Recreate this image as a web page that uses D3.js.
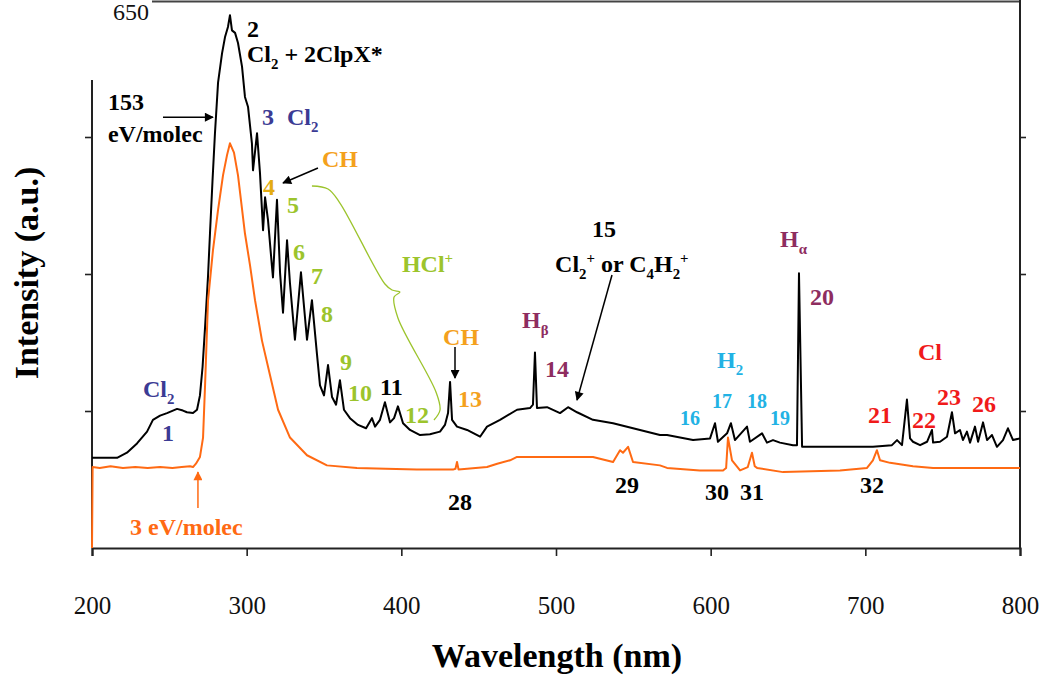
<!DOCTYPE html>
<html><head><meta charset="utf-8">
<script src="https://cdn.jsdelivr.net/npm/d3@7"></script>
<style>
html,body{margin:0;padding:0;background:#fff;}
svg{display:block;}
text{font-family:"Liberation Serif","Times New Roman",serif;}
</style></head><body>
<svg id="chart" width="1048" height="677"></svg>
<script>
// ---------- data ----------
const xTicks = [200, 300, 400, 500, 600, 700, 800];
const yTicks = [162.5, 325, 487.5];
const yTopLabel = "650";

// 153 eV/molec spectrum (black)
const blackWl = [200,216.2,222.6,229.1,235.6,239.4,244,248.5,255,258.8,261.4,265.3,267.9,269.8,271.5,273.1,275,276.3,277.9,279.5,281.5,284.1,286,287.9,289.2,290.5,292.5,294.4,297,298.9,300.9,303.4,304.1,306.7,308.6,310.6,311.9,313.8,316.4,317,319.6,321.6,323.5,326.1,328,331.2,335.1,339,342.2,345.5,347.4,350,352.6,355.2,357.8,360.3,362.9,366.8,372,377.2,381,383,386.2,389.4,392.7,395.3,397.8,401.1,405.6,412.1,418.5,425,428.2,430.2,431.5,432.8,436,442.5,450.9,455.4,463.8,474.8,483.2,485.1,486.4,487.7,494.2,502.6,507.8,513.6,523.9,536.9,549.8,567.2,571.8,588.6,599.6,602.8,604.7,610.6,613.1,615.7,623.5,625.4,633.2,636.4,640.3,644.8,653.2,655.8,657.1,659.1,683.6,704.9,717.2,720.5,723.7,726.9,728.9,730.8,735.4,739.9,743.1,743.8,748.3,752.8,756,758,761.2,763.1,765.7,767.7,770.9,772.9,776.1,778.7,781.9,785.1,789,792.2,795.5,800];
const blackI = [107,107,113,124,138,152,157,160,165,163,161,160,164,181,215,262,322,374,435,492,552,587,606,618,632,614,611,599,571,535,523,480,448,492,445,377,416,389,333,321,413,326,279,365,314,247,327,247,294,229,193,181,217,179,170,199,164,154,146,142,154,144,152,173,149,154,168,148,140,134,135,138,146,160,197,152,144,140,132,144,152,164,166,170,232,166,167,160,167,161,152,148,142,134,134,128,130,148,126,136,148,128,144,126,136,125,128,125,122,122,326,120,120,120,122,128,122,176,130,126,122,126,140,125,126,132,161,136,140,128,138,125,144,126,149,128,134,120,128,142,128,130];

// 3 eV/molec spectrum (orange)
const orangeWl = [200,200.4,205,212,220,228,236,244,252,258,263.4,265.3,267.2,269.8,271.8,273.1,275,278.2,281.5,284.7,287.3,289.2,291.8,294.4,298.9,302.2,305.4,309.9,315.1,320.3,328,339,351.9,371.3,390,410,433.4,435,436,437,455.4,462,470.3,474.8,494.2,509.1,523.9,536.9,541.4,543.3,546.6,549.8,567.2,571.8,593,608,610,611.2,613.8,619,624,626.7,628.5,630,646.8,683.6,701.1,704.9,707.5,709.5,716,730.8,743.8,770,800];
const orangeI = [0,96,95,97,95,96,95,96,95,96,97,96,100,108,131,193,293,353,401,442,466,480,469,442,373,335,294,246,205,164,131,110,98,95,94,93,93,94,102,93,96,100,104,108,108,108,108,102,116,113,120,102,98,95,92,92,95,131,104,92,96,113,97,95,90,92,95,104,116,104,101,97,95,95,95];

// ---------- colours ----------
const C = {
  black: "#000000", orange: "#ff6a13", blue: "#3b3b94", ch: "#f4a11d", ch4: "#e3ac12",
  green: "#9cc42c", maroon: "#8e2d5f", cyan: "#22b2e4", red: "#f01a1a", axis: "#222222"
};

// annotations in data coordinates (wavelength, intensity)
const labels = [
  {t:"2", wl:300.2, I:606, c:C.black},
  {t:"Cl_{2} + 2ClpX*", wl:300.2, I:576, c:C.black},
  {t:"153", wl:210.3, I:519.5, c:C.black},
  {t:"eV/molec", wl:210.3, I:481.6, c:C.black},
  {t:"3", wl:309.9, I:501.7, c:C.blue},
  {t:"Cl_{2}", wl:326.1, I:501.7, c:C.blue},
  {t:"CH", wl:348.7, I:451.9, c:C.ch},
  {t:"4", wl:310.6, I:418.7, c:C.ch4},
  {t:"5", wl:326.1, I:397.4, c:C.green},
  {t:"6", wl:330, I:341.6, c:C.green},
  {t:"7", wl:341.6, I:313, c:C.green},
  {t:"8", wl:348.1, I:268, c:C.green},
  {t:"9", wl:360.3, I:211, c:C.green},
  {t:"10", wl:365.5, I:174, c:C.green},
  {t:"11", wl:386.2, I:181.5, c:C.black},
  {t:"12", wl:402.4, I:148, c:C.green},
  {t:"HCl^{+}", wl:400.4, I:327, c:C.green},
  {t:"CH", wl:427, I:241, c:C.ch},
  {t:"13", wl:436.6, I:167, c:C.ch},
  {t:"H_{β}", wl:478, I:261, c:C.maroon},
  {t:"14", wl:492.9, I:203, c:C.maroon},
  {t:"15", wl:523.3, I:369, c:C.black},
  {t:"Cl_{2}^{+} or C_{4}H_{2}^{+}", wl:499.4, I:327, c:C.black},
  {t:"H_{α}", wl:644.8, I:357, c:C.maroon},
  {t:"20", wl:664.2, I:288, c:C.maroon},
  {t:"H_{2}", wl:604.1, I:213.5, c:C.cyan},
  {t:"16", wl:580.2, I:146, c:C.cyan, s:20},
  {t:"17", wl:600.9, I:166, c:C.cyan, s:20},
  {t:"18", wl:623.5, I:166, c:C.cyan, s:20},
  {t:"19", wl:638.4, I:146, c:C.cyan, s:20},
  {t:"Cl", wl:734, I:223, c:C.red},
  {t:"21", wl:701.7, I:148, c:C.red},
  {t:"22", wl:730.2, I:142, c:C.red},
  {t:"23", wl:746.3, I:170, c:C.red},
  {t:"26", wl:769, I:161, c:C.red},
  {t:"28", wl:430.2, I:45, c:C.black},
  {t:"29", wl:538.2, I:65, c:C.black},
  {t:"30", wl:596.3, I:57, c:C.black},
  {t:"31", wl:619, I:57, c:C.black},
  {t:"32", wl:696.6, I:65, c:C.black},
  {t:"3 eV/molec", wl:224.6, I:15.4, c:C.orange},
  {t:"Cl_{2}", wl:233, I:179, c:C.blue},
  {t:"1", wl:245.3, I:127, c:C.blue}
];

const arrows = [
  {wl1:245.9, I1:511, wl2:278.2, I2:511, c:C.black},
  {wl1:346.1, I1:450.7, wl2:323.5, I2:433, c:C.black},
  {wl1:434.7, I1:238.4, wl2:434.7, I2:201.6, c:C.black},
  {wl1:536.2, I1:323.8, wl2:513.6, I2:175.5, c:C.black},
  {wl1:268.5, I1:47.4, wl2:268.5, I2:90.1, c:C.orange}
];

const braceWl = [342.2,352.6,360.3,389.4,394,399.1,395.3,397.8,422.4,425,421.1];
const braceI  = [429.4,425.8,409.2,313.1,306,303.6,297.7,272.8,185,163.7,151.8];

// ---------- drawing ----------
const FONT = "'Liberation Serif','Times New Roman',serif";
const svg = d3.select("#chart");
const x = d3.scaleLinear().domain([200, 800]).range([92, 1020]);
const y = d3.scaleLinear().domain([0, 650]).range([548, 0]);

// frame lines
svg.append("line").attr("x1", 152).attr("x2", x(800)).attr("y1", 1.5).attr("y2", 1.5)
  .attr("stroke", "#444").attr("stroke-width", 2);
svg.append("line").attr("x1", x(800)).attr("x2", x(800)).attr("y1", 0).attr("y2", y(0))
  .attr("stroke", C.axis).attr("stroke-width", 2);
svg.append("line").attr("x1", x(200)).attr("x2", x(200)).attr("y1", 80).attr("y2", y(0))
  .attr("stroke", C.axis).attr("stroke-width", 2);

// axes
const xAxis = svg.append("g").attr("transform", `translate(0,${y(0)})`)
  .call(d3.axisBottom(x).tickValues(xTicks).tickSize(8).tickPadding(40).tickFormat(d3.format("d")));
xAxis.select(".domain").attr("stroke", C.axis).attr("stroke-width", 2.2);
xAxis.selectAll(".tick line").attr("stroke", C.axis).attr("stroke-width", 1.6);
xAxis.selectAll(".tick text").attr("font-family", FONT).attr("font-size", 25).attr("fill", "#111");

const yAxisL = svg.append("g").attr("transform", `translate(${x(200)},0)`)
  .call(d3.axisLeft(y).tickValues(yTicks).tickSize(7).tickFormat(""));
yAxisL.select(".domain").remove();
yAxisL.selectAll(".tick line").attr("stroke", C.axis).attr("stroke-width", 1.6);

const yAxisR = svg.append("g").attr("transform", `translate(${x(800)},0)`)
  .call(d3.axisRight(y).tickValues(yTicks).tickSize(6).tickFormat(""));
yAxisR.select(".domain").remove();
yAxisR.selectAll(".tick line").attr("stroke", C.axis).attr("stroke-width", 1.6);

svg.append("text").attr("x", x(213.6)).attr("y", y(626)).attr("font-family", FONT)
  .attr("font-size", 24).attr("fill", "#111").text(yTopLabel);

// titles
svg.append("text").attr("x", 557).attr("y", 667).attr("text-anchor", "middle").attr("font-family", FONT)
  .attr("font-size", 34).attr("font-weight", "bold").text("Wavelength (nm)");
svg.append("text").attr("transform", "translate(38,273) rotate(-90)").attr("text-anchor", "middle")
  .attr("font-family", FONT).attr("font-size", 34).attr("font-weight", "bold").text("Intensity (a.u.)");

// series
const line = d3.line().x(d => x(d[0])).y(d => y(d[1]));
const blackData = blackWl.map((w, i) => [w, blackI[i]]);
const orangeData = orangeWl.map((w, i) => [w, orangeI[i]]);
svg.append("path").datum(blackData).attr("d", line).attr("fill", "none")
  .attr("stroke", C.black).attr("stroke-width", 2).attr("stroke-linejoin", "round");
svg.append("path").datum(orangeData).attr("d", line).attr("fill", "none")
  .attr("stroke", C.orange).attr("stroke-width", 2).attr("stroke-linejoin", "round");

// brace
const braceData = braceWl.map((w, i) => [w, braceI[i]]);
svg.append("path").datum(braceData)
  .attr("d", d3.line().x(d => x(d[0])).y(d => y(d[1])).curve(d3.curveCatmullRom.alpha(0.5)))
  .attr("fill", "none").attr("stroke", C.green).attr("stroke-width", 1.3);

// arrows
const defs = svg.append("defs");
[["ah-black", C.black], ["ah-orange", C.orange]].forEach(([id, col]) => {
  defs.append("marker").attr("id", id).attr("viewBox", "0 0 10 10").attr("refX", 9).attr("refY", 5)
    .attr("markerWidth", 11).attr("markerHeight", 9).attr("markerUnits", "userSpaceOnUse")
    .attr("orient", "auto")
    .append("path").attr("d", "M0,0 L10,5 L0,10 z").attr("fill", col);
});
arrows.forEach(a => {
  svg.append("line").attr("x1", x(a.wl1)).attr("y1", y(a.I1)).attr("x2", x(a.wl2)).attr("y2", y(a.I2))
    .attr("stroke", a.c).attr("stroke-width", 1.5)
    .attr("marker-end", `url(#${a.c === C.orange ? "ah-orange" : "ah-black"})`);
});

// rich text labels
function rich(sel, str, size) {
  const parts = str.split(/(_\{[^}]*\}|\^\{[^}]*\})/g).filter(s => s.length);
  let shift = 0;
  parts.forEach(p => {
    let kind = "n", t = p;
    if (p.startsWith("_{")) { kind = "sub"; t = p.slice(2, -1); }
    else if (p.startsWith("^{")) { kind = "sup"; t = p.slice(2, -1); }
    const target = kind === "sub" ? size * 0.28 : kind === "sup" ? -size * 0.4 : 0;
    sel.append("tspan").attr("dy", target - shift)
      .attr("font-size", kind === "n" ? size : size * 0.62)
      .style("white-space", "pre").text(t);
    shift = target;
  });
}
labels.forEach(l => {
  const size = l.s || 24;
  const t = svg.append("text").attr("x", x(l.wl)).attr("y", y(l.I))
    .attr("fill", l.c).attr("font-family", FONT).attr("font-weight", "bold").attr("font-size", size)
    .attr("xml:space", "preserve");
  rich(t, l.t, size);
});
</script>
</body></html>
